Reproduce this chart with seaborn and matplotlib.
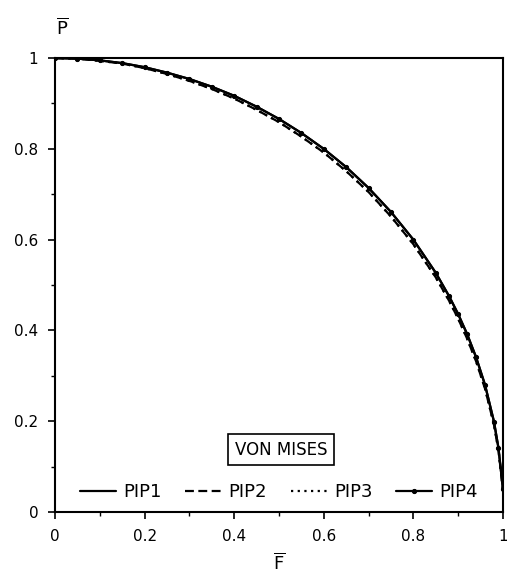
import numpy as np
import pandas as pd
import matplotlib
matplotlib.use("Agg")
import matplotlib.pyplot as plt
import seaborn as sns
from matplotlib.ticker import MultipleLocator

sns.set_theme(style="ticks")
plt.rcParams['font.family'] = ['DejaVu Sans']
plt.rcParams['mathtext.fontset'] = 'dejavusans'
plt.rcParams['text.color'] = 'black'

F = [0, 0.05, 0.1, 0.15, 0.2, 0.25, 0.3, 0.35, 0.4, 0.45, 0.5, 0.55, 0.6,
     0.65, 0.7, 0.75, 0.8, 0.85, 0.88, 0.9, 0.92, 0.94, 0.96, 0.98, 0.99, 1.0]
P_outer = [1.0, 0.999, 0.995, 0.989, 0.980, 0.968, 0.954, 0.937, 0.917, 0.893,
           0.866, 0.835, 0.800, 0.760, 0.714, 0.661, 0.600, 0.527, 0.475, 0.436,
           0.392, 0.341, 0.280, 0.199, 0.141, 0.05]
P_inner = [1.0, 0.999, 0.994, 0.988, 0.978, 0.965, 0.950, 0.932, 0.911, 0.886,
           0.859, 0.827, 0.792, 0.751, 0.705, 0.651, 0.590, 0.517, 0.465, 0.426,
           0.382, 0.332, 0.272, 0.192, 0.136, 0.05]

series = {
    "PIP1": (F, P_outer, "-", None),
    "PIP2": (F, P_inner, (0, (4, 2)), None),
    "PIP3": (F, P_inner, (0, (1, 2)), None),
    "PIP4": (F, P_outer, "-", "o"),
}
tick_vals = [0, 0.2, 0.4, 0.6, 0.8, 1.0]
tick_text = ["0", "0.2", "0.4", "0.6", "0.8", "1"]

fig = plt.figure(figsize=(5.07, 5.87), dpi=100)
ax = fig.add_axes([0.1085, 0.1278, 0.8835, 0.7732])

handles = []
for name, (x, y, ls, mk) in series.items():
    df = pd.DataFrame({"F": x, "P": y})
    sns.lineplot(data=df, x="F", y="P", ax=ax, color="black", sort=False,
                 linestyle=ls, marker=mk, markersize=3, markeredgecolor="black",
                 linewidth=1.6, label=name, legend=False)
    handles.append(ax.lines[-1])

ax.set_xlim(0, 1)
ax.set_ylim(0, 1)
ax.set_xticks(tick_vals)
ax.set_xticklabels(tick_text)
ax.set_yticks(tick_vals)
ax.set_yticklabels(tick_text)
ax.xaxis.set_minor_locator(MultipleLocator(0.1))
ax.yaxis.set_minor_locator(MultipleLocator(0.1))
ax.tick_params(axis="both", which="major", direction="out", length=5, width=1.2,
               labelsize=11, colors="black", labelcolor="black", pad=7)
ax.tick_params(axis="both", which="minor", direction="out", length=3, width=1.0,
               colors="black")
for s in ax.spines.values():
    s.set_linewidth(1.5)
    s.set_color("black")
ax.set_xlabel("")
ax.set_ylabel("")

leg = ax.legend(handles=handles, labels=list(series.keys()), loc="lower center",
                bbox_to_anchor=(0.5, 0.0), ncol=4, frameon=False, fontsize=13,
                handlelength=2.0, handletextpad=0.4, columnspacing=1.3,
                borderaxespad=0.2)
for t in leg.get_texts():
    t.set_color("black")

ax.text(0.505, 0.137, "VON MISES", transform=ax.transAxes, ha="center",
        va="center", fontsize=12, color="black",
        bbox=dict(boxstyle="square,pad=0.4", facecolor="white",
                  edgecolor="black", linewidth=1.2))

fig.text(62 / 507, 1 - 28 / 587, r"$\overline{\mathsf{P}}$", ha="center",
         va="center", fontsize=13, color="black")
fig.text(279 / 507, 1 - 563 / 587, r"$\overline{\mathsf{F}}$", ha="center",
         va="center", fontsize=13, color="black")

fig.savefig("out.png", dpi=100)
